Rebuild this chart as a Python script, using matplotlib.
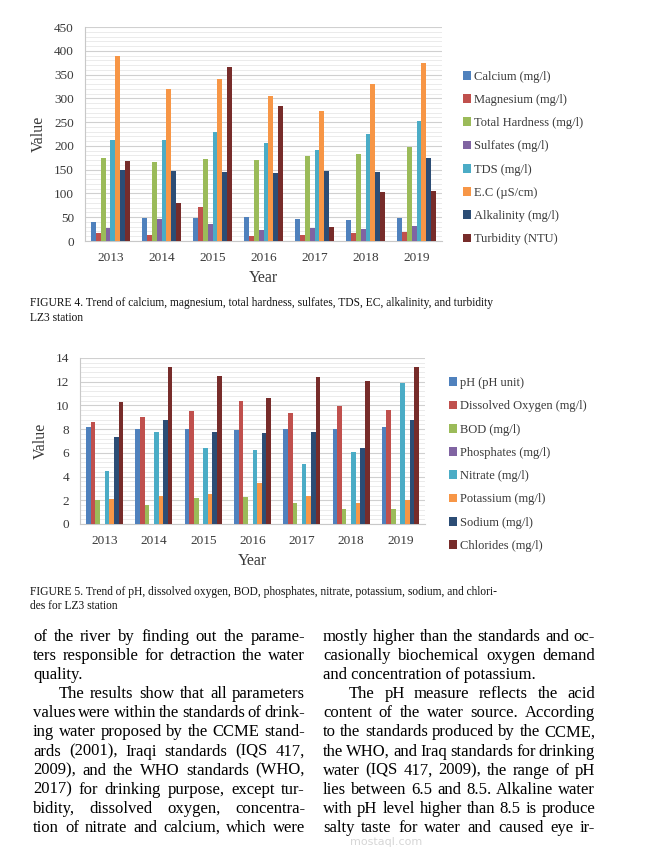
import numpy as np
import matplotlib.pyplot as plt
from matplotlib.ticker import MultipleLocator
from matplotlib.font_manager import FontProperties

plt.rcParams['font.family'] = ['Liberation Serif', 'DejaVu Serif']

W, H = 663, 865

years = ['2013', '2014', '2015', '2016', '2017', '2018', '2019']

# figure 4 series
calcium = [40, 49, 48, 50, 46, 44, 48]
magnesium = [17, 13, 71, 10, 13, 17, 18]
hardness = [174, 166, 172, 170, 178, 183, 198]
sulfates = [27, 46, 36, 24, 27, 25, 31]
tds = [212, 212, 230, 207, 192, 225, 253]
ec = [390, 319, 340, 305, 273, 330, 374]
alkalinity = [150, 147, 146, 142, 147, 146, 174]
turbidity = [168, 80, 365, 283, 29, 103, 105]
labels4 = ['Calcium (mg/l)', 'Magnesium (mg/l)', 'Total Hardness (mg/l)',
           'Sulfates (mg/l)', 'TDS (mg/l)', 'E.C (\u00b5S/cm)',
           'Alkalinity (mg/l)', 'Turbidity (NTU)']

# figure 5 series
ph = [8.15, 8.05, 8.0, 7.9, 8.05, 8.0, 8.15]
oxygen = [8.6, 9.0, 9.5, 10.4, 9.4, 9.95, 9.6]
bod = [2.0, 1.6, 2.2, 2.25, 1.75, 1.23, 1.26]
phosphates = [0.03, 0.03, 0.03, 0.03, 0.03, 0.03, 0.03]
nitrate = [4.45, 7.75, 6.4, 6.25, 5.1, 6.1, 11.9]
potassium = [2.1, 2.4, 2.5, 3.45, 2.4, 1.77, 2.0]
sodium = [7.3, 8.8, 7.8, 7.65, 7.8, 6.45, 8.75]
chlorides = [10.3, 13.25, 12.5, 10.65, 12.4, 12.05, 13.2]
labels5 = ['pH (pH unit)', 'Dissolved Oxygen (mg/l)', 'BOD (mg/l)',
           'Phosphates (mg/l)', 'Nitrate (mg/l)', 'Potassium (mg/l)',
           'Sodium (mg/l)', 'Chlorides (mg/l)']

colors = ['#4F81BD', '#C0504D', '#9BBB59', '#8064A2',
          '#4BACC6', '#F79646', '#2C4D75', '#772C2A']

col1 = [
    'of the river by finding out the parame-',
    'ters responsible for detraction the water',
    'quality.',
    'The results show that all parameters',
    'values were within the standards of drink-',
    'ing water proposed by the CCME stand-',
    'ards (2001), Iraqi standards (IQS 417,',
    '2009), and the WHO standards (WHO,',
    '2017) for drinking purpose, except tur-',
    'bidity, dissolved oxygen, concentra-',
    'tion of nitrate and calcium, which were',
]
col2 = [
    'mostly higher than the standards and oc-',
    'casionally biochemical oxygen demand',
    'and concentration of potassium.',
    'The pH measure reflects the acid',
    'content of the water source. According',
    'to the standards produced by the CCME,',
    'the WHO, and Iraq standards for drinking',
    'water (IQS 417, 2009), the range of pH',
    'lies between 6.5 and 8.5. Alkaline water',
    'with pH level higher than 8.5 is produce',
    'salty taste for water and caused eye ir-',
]
indented = {3}
ragged = {2}

fig = plt.figure(figsize=(W / 100, H / 100), dpi=100)
fig.patch.set_facecolor('white')
txt_col = '#3A3A3A'


def bar_chart(rect, series, labels, ymax, major, minor, leg_x, leg_y, spacing):
    ax = fig.add_axes(rect)
    n = len(series)
    w = 0.75 / n
    x = np.arange(len(years))
    for i, vals in enumerate(series):
        ax.bar(x + (i - (n - 1) / 2) * w, vals, w, color=colors[i],
               label=labels[i], zorder=3)
    ax.set_xlim(-0.5, len(years) - 0.5)
    ax.set_ylim(0, ymax)
    ax.yaxis.set_major_locator(MultipleLocator(major))
    ax.yaxis.set_minor_locator(MultipleLocator(minor))
    ax.grid(True, which='major', axis='y', color='#D0D0D0', lw=0.8, zorder=0)
    ax.grid(True, which='minor', axis='y', color='#EBEBEB', lw=0.7, zorder=0)
    ax.set_xticks(x)
    ax.set_xticklabels(years)
    for s in ['top', 'right']:
        ax.spines[s].set_visible(False)
    for s in ['left', 'bottom']:
        ax.spines[s].set_color('#C8C8C8')
        ax.spines[s].set_linewidth(0.8)
    ax.tick_params(axis='both', which='both', length=0, labelsize=9.5,
                   colors=txt_col, pad=8)
    ax.set_xlabel('Year', fontsize=11.5, color=txt_col, labelpad=4)
    ax.set_ylabel('Value', fontsize=11.5, color=txt_col, labelpad=5)
    ax.legend(loc='center left', bbox_to_anchor=(leg_x, leg_y),
              bbox_transform=fig.transFigure, frameon=False,
              fontsize=9, labelcolor=txt_col, handlelength=0.6,
              handleheight=0.7, handletextpad=0.25, labelspacing=spacing,
              borderpad=0, borderaxespad=0)
    return ax


bar_chart([85 / W, 1 - 241 / H, 357 / W, 214 / H],
          [calcium, magnesium, hardness, sulfates, tds, ec, alkalinity, turbidity],
          labels4, 450, 50, 10, 463 / W, 1 - 158 / H, 0.9)
bar_chart([80 / W, 1 - 524 / H, 345 / W, 166 / H],
          [ph, oxygen, bod, phosphates, nitrate, potassium, sodium, chlorides],
          labels5, 14, 2, 0.4, 449 / W, 1 - 464.5 / H, 0.9)

cap_kw = dict(fontsize=8.3, color='#111111', ha='left', va='baseline')
fig.text(30 / W, 1 - 306 / H,
         'FIGURE 4. Trend of calcium, magnesium, total hardness, sulfates, '
         'TDS, EC, alkalinity, and turbidity', **cap_kw)
fig.text(30 / W, 1 - 321 / H, 'LZ3 station', **cap_kw)
fig.text(30 / W, 1 - 595 / H,
         'FIGURE 5. Trend of pH, dissolved oxygen, BOD, phosphates, nitrate, '
         'potassium, sodium, and chlori-', **cap_kw)
fig.text(30 / W, 1 - 609 / H, 'des for LZ3 station', **cap_kw)

renderer = fig.canvas.get_renderer()
body = FontProperties(family='Liberation Serif', size=12)


def text_column(lines, x0, x1, y0, step):
    for k, line in enumerate(lines):
        y = 1 - (y0 + k * step) / H
        start = x0 + (26 if k in indented else 0)
        if k in ragged:
            fig.text(start / W, y, line, fontproperties=body,
                     color='black', va='baseline')
            continue
        words = line.split()
        widths = [renderer.get_text_width_height_descent(wd, body, ismath=False)[0]
                  for wd in words]
        gap = max((x1 - start - sum(widths)) / (len(words) - 1), 1.5)
        pos = start
        for wd, wdt in zip(words, widths):
            fig.text(pos / W, y, wd, fontproperties=body,
                     color='black', va='baseline')
            pos += wdt + gap


text_column(col1, 33, 305, 641, 19.1)
text_column(col2, 323, 595, 641, 19.1)

fig.text(350 / W, 1 - 845 / H, 'mostaql.com', fontsize=8,
         family='DejaVu Sans', color='#D6D6D6', va='baseline')

fig.savefig('out.png', dpi=100)
